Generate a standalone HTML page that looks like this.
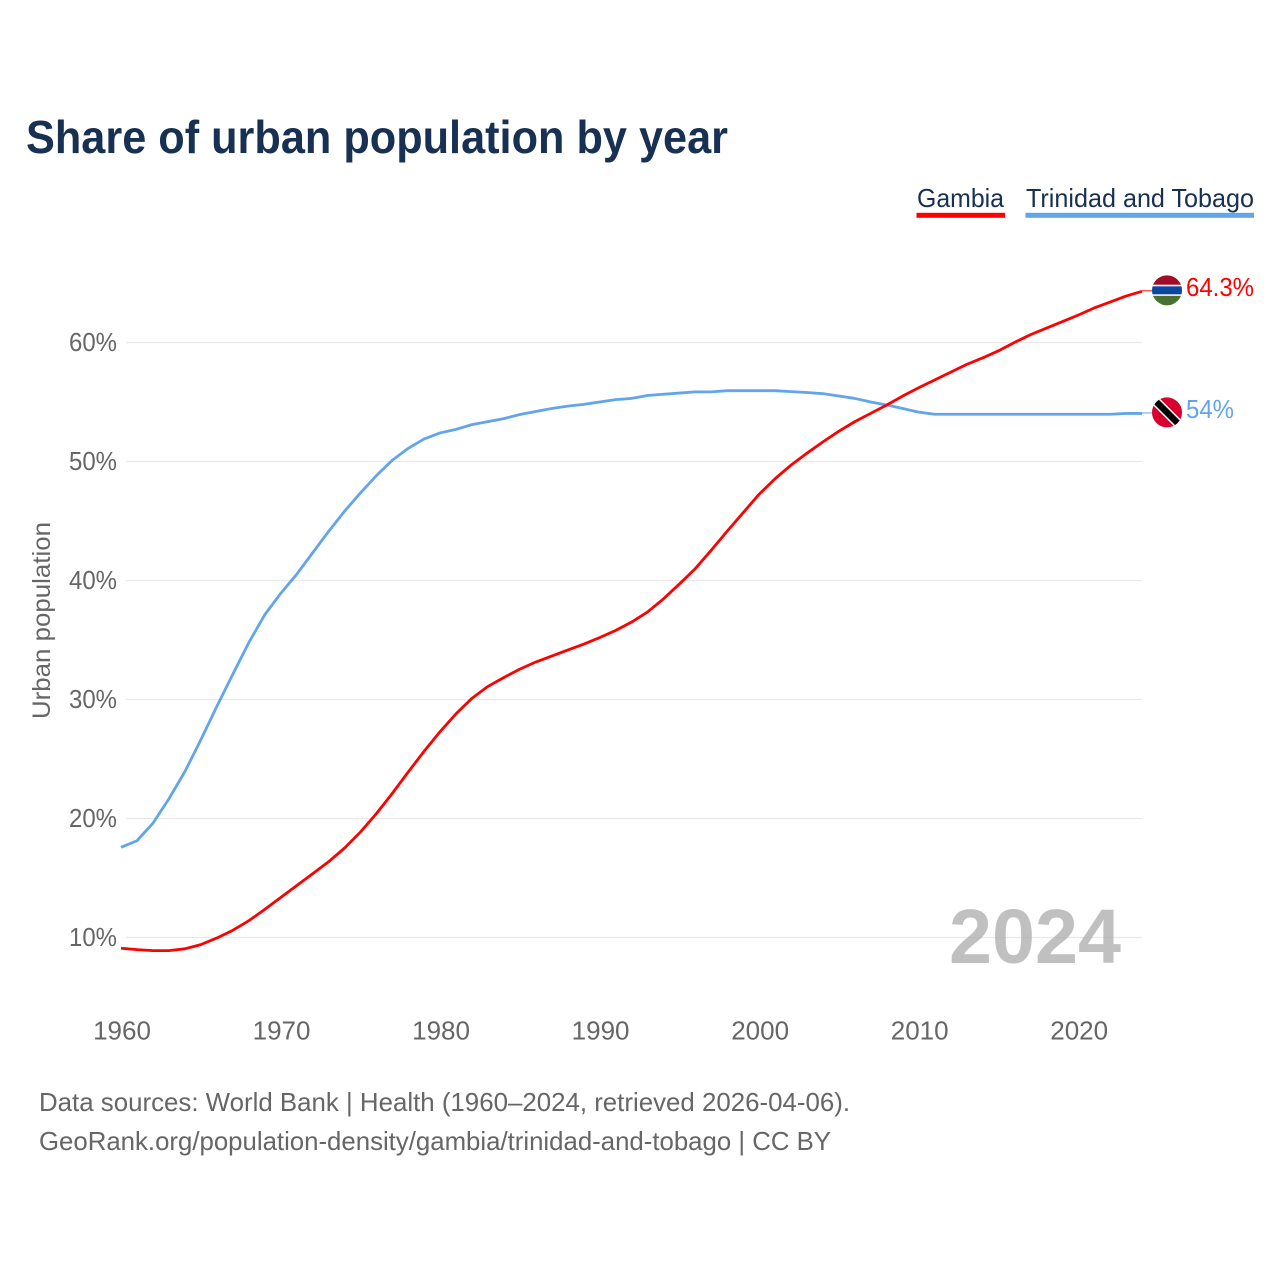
<!DOCTYPE html>
<html lang="en">
<head>
<meta charset="utf-8">
<title>Share of urban population by year</title>
<style>
html,body{margin:0;padding:0;background:#fff;}
svg{display:block;font-family:"Liberation Sans",sans-serif;}
</style>
</head>
<body>
<svg id="chart" width="1280" height="1280" viewBox="0 0 1280 1280" xmlns="http://www.w3.org/2000/svg">
  <defs>
    <clipPath id="flag-clip-a"><circle cx="0" cy="0" r="15"/></clipPath>
  </defs>
  <rect width="1280" height="1280" fill="#fff"/>
  <text x="26" y="153" font-size="46" font-weight="700" fill="#183153" textLength="702" lengthAdjust="spacingAndGlyphs">Share of urban population by year</text>

  <g>
    <text x="917" y="207" font-size="26" fill="#183153" textLength="87" lengthAdjust="spacingAndGlyphs">Gambia</text>
    <rect x="916.5" y="212.8" width="88.5" height="5" fill="#ff0000"/>
  </g>
  <g>
    <text x="1026" y="207" font-size="26" fill="#183153" textLength="228" lengthAdjust="spacingAndGlyphs">Trinidad and Tobago</text>
    <rect x="1025.5" y="212.8" width="228.5" height="5" fill="#62a5ec"/>
  </g>

  <g id="grid"></g>
  <g id="yticks"></g>
  <g id="xticks"></g>

  <text transform="translate(50,719) rotate(-90)" font-size="25" fill="#666" textLength="197" lengthAdjust="spacingAndGlyphs">Urban population</text>

  <text x="949" y="963" font-size="77" font-weight="700" fill="#a8a8a8" fill-opacity="0.72" textLength="172" lengthAdjust="spacingAndGlyphs">2024</text>

  <g id="series"></g>
  <g id="ends"></g>

  <text x="39" y="1111" font-size="26" fill="#666" textLength="811" lengthAdjust="spacingAndGlyphs">Data sources: World Bank | Health (1960–2024, retrieved 2026-04-06).</text>
  <text x="39" y="1150" font-size="26" fill="#666" textLength="792" lengthAdjust="spacingAndGlyphs">GeoRank.org/population-density/gambia/trinidad-and-tobago | CC BY</text>
</svg>

<script>
const years = [1960,1961,1962,1963,1964,1965,1966,1967,1968,1969,1970,1971,1972,1973,1974,1975,1976,1977,1978,1979,1980,1981,1982,1983,1984,1985,1986,1987,1988,1989,1990,1991,1992,1993,1994,1995,1996,1997,1998,1999,2000,2001,2002,2003,2004,2005,2006,2007,2008,2009,2010,2011,2012,2013,2014,2015,2016,2017,2018,2019,2020,2021,2022,2023,2024];
const gambiaValues = [9.1,8.98,8.9,8.9,9.05,9.4,9.95,10.6,11.4,12.35,13.35,14.35,15.35,16.35,17.5,18.85,20.4,22.1,23.9,25.65,27.3,28.8,30.1,31.1,31.85,32.55,33.15,33.65,34.15,34.65,35.2,35.8,36.5,37.35,38.45,39.7,41.0,42.55,44.15,45.7,47.25,48.55,49.7,50.7,51.65,52.55,53.35,54.05,54.75,55.5,56.2,56.85,57.5,58.15,58.7,59.3,60.0,60.65,61.2,61.75,62.3,62.9,63.4,63.9,64.3];
const trinidadValues = [17.58,18.13,19.6,21.65,23.93,26.6,29.4,32.1,34.75,37.1,38.9,40.5,42.3,44.1,45.8,47.35,48.8,50.1,51.1,51.9,52.4,52.7,53.1,53.35,53.6,53.95,54.2,54.45,54.65,54.8,55.0,55.2,55.3,55.55,55.65,55.75,55.85,55.85,55.95,55.95,55.95,55.95,55.87,55.8,55.7,55.5,55.3,55.0,54.75,54.45,54.15,53.97,53.97,53.97,53.97,53.97,53.97,53.97,53.97,53.97,53.97,53.97,53.97,54.04,54.04];
const yTickValues = [10,20,30,40,50,60];
const xTickValues = [1960,1970,1980,1990,2000,2010,2020];

const NS = 'http://www.w3.org/2000/svg';
const xScale = function (year) { return 121 + (year - 1960) * (1142 - 121) / 64; };
const yScale = function (pct) { return 937.5 - (pct - 10) * 11.9; };

function make(tag, attrs, parent, text) {
  const el = document.createElementNS(NS, tag);
  Object.keys(attrs).forEach(function (k) { el.setAttribute(k, attrs[k]); });
  if (text !== undefined) el.textContent = text;
  parent.appendChild(el);
  return el;
}

const grid = document.getElementById('grid');
const yticks = document.getElementById('yticks');
yTickValues.forEach(function (v) {
  const line = make('line', {x1: 126, x2: 1142, y1: yScale(v), y2: yScale(v), stroke: '#e9e9e9', 'stroke-width': 1.2}, grid);
  
  
  const label = make('text', {x: 69, y: yScale(v) + 8.5, 'font-size': 26, fill: '#666', textLength: 48, lengthAdjust: 'spacingAndGlyphs'}, yticks, v + '%');
  
  
});

const xticks = document.getElementById('xticks');
xTickValues.forEach(function (yr) {
  const label = make('text', {x: xScale(yr) + 1, y: 1039.5, 'font-size': 26, fill: '#666', 'text-anchor': 'middle'}, xticks, String(yr));
  
  
});

function linePath(values) {
  return values.map(function (v, i) {
    return (i ? 'L' : 'M') + xScale(years[i]).toFixed(2) + ' ' + yScale(v).toFixed(2);
  }).join(' ');
}

const seriesGroup = document.getElementById('series');
const blueLine = make('path', {d: linePath(trinidadValues), fill: 'none', stroke: '#62a5ec', 'stroke-width': 2.8, 'stroke-linejoin': 'round'}, seriesGroup);


const redLine = make('path', {d: linePath(gambiaValues), fill: 'none', stroke: '#ff0000', 'stroke-width': 2.8, 'stroke-linejoin': 'round'}, seriesGroup);



const ends = document.getElementById('ends');
const lastX = xScale(years[years.length - 1]);
const flagX = 1167;

function endLabel(values, color, width) {
  const last = values[values.length - 1];
  const y = yScale(last);
  const leader = make('line', {x1: lastX, x2: flagX - 14, y1: y - 0.5, y2: y - 0.5, stroke: color, 'stroke-width': 1}, ends);
  
  
  const text = Math.round(last * 10) / 10 + '%';
  const label = make('text', {x: 1186, y: y + 4.5, 'font-size': 26, fill: color, textLength: width, lengthAdjust: 'spacingAndGlyphs'}, ends, text);
  
  
  return y - 1;
}

const gambiaY = endLabel(gambiaValues, '#ff0000', 68);
const trinidadY = endLabel(trinidadValues, '#62a5ec', 48);

const gambiaFlag = make('g', {transform: 'translate(' + flagX + ',' + gambiaY + ')', 'clip-path': 'url(#flag-clip-a)'}, ends);


make('rect', {x: -16, y: -16, width: 32, height: 10.5, fill: '#a00d25'}, gambiaFlag);
make('rect', {x: -16, y: -5.5, width: 32, height: 11, fill: '#fff'}, gambiaFlag);
make('rect', {x: -16, y: -4, width: 32, height: 8, fill: '#0b46a0'}, gambiaFlag);
make('rect', {x: -16, y: 5.5, width: 32, height: 11, fill: '#4a7030'}, gambiaFlag);

const trinidadFlag = make('g', {transform: 'translate(' + flagX + ',' + trinidadY + ')', 'clip-path': 'url(#flag-clip-a)'}, ends);


make('rect', {x: -16, y: -16, width: 32, height: 32, fill: '#d8002e'}, trinidadFlag);
make('line', {x1: -16, y1: -16, x2: 16, y2: 16, stroke: '#fff', 'stroke-width': 9.5}, trinidadFlag);
make('line', {x1: -16, y1: -16, x2: 16, y2: 16, stroke: '#000', 'stroke-width': 6.5}, trinidadFlag);
</script>
</body>
</html>
